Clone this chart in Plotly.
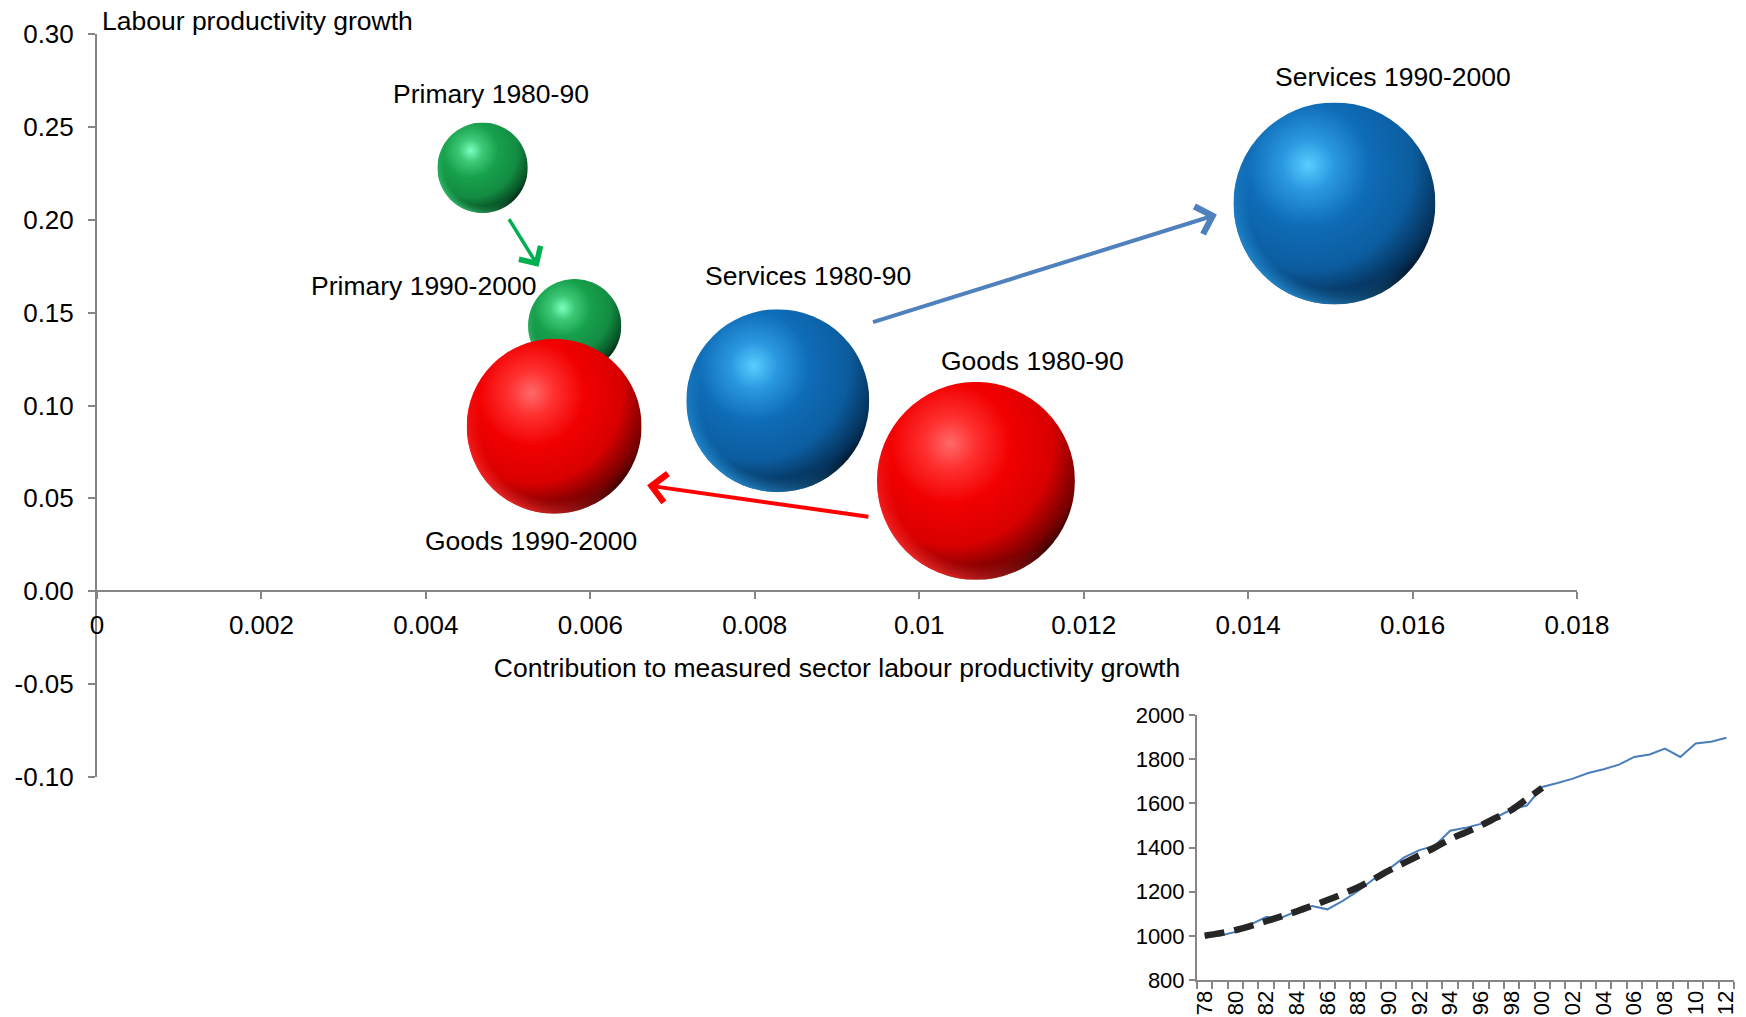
import base64
import math
import plotly.graph_objects as go

# ---- Bubble chart data: sector contribution vs labour productivity growth ----
bubble_labels = ["Primary 1980-90", "Primary 1990-2000",
                 "Services 1980-90", "Services 1990-2000",
                 "Goods 1980-90", "Goods 1990-2000"]
bubble_sector = ["Primary", "Primary", "Services", "Services", "Goods", "Goods"]
contribution = [0.00469, 0.00581, 0.00828, 0.01505, 0.01069, 0.00556]
productivity_growth = [0.228, 0.143, 0.1026, 0.2088, 0.0594, 0.0888]
employment_share = [6.0, 6.4, 24.6, 30.0, 28.8, 22.5]

# ---- Inset: measured sector labour productivity index ----
years = list(range(1978, 2013))
productivity_index = [1000, 1000, 1018, 1052, 1085, 1082, 1112, 1135, 1120, 1158,
                      1203, 1256, 1302, 1355, 1388, 1408, 1476, 1489, 1507, 1537,
                      1572, 1590, 1674, 1692, 1712, 1737, 1754, 1775, 1810, 1821,
                      1848, 1810, 1871, 1879, 1897]
trend_years = list(range(1978, 2001))
trend_index = [1000, 1012, 1026, 1045, 1066, 1088, 1111, 1136, 1162, 1190,
               1220, 1256, 1295, 1330, 1365, 1400, 1438, 1468, 1500, 1535,
               1570, 1620, 1670]

# ---- Page geometry ----
W, H = 1746, 1017
M = dict(l=97, r=10, t=34, b=37, autoexpand=False)
PW, PH = W - M["l"] - M["r"], H - M["t"] - M["b"]

X_RANGE = [0, 0.018]
Y_RANGE = [-0.10, 0.30]
main_right_px, main_bottom_px = 1577, 777
x_dom = [0, (main_right_px - M["l"]) / PW]
y_dom = [(H - M["b"] - main_bottom_px) / PH, 1]
x_axis_pos = y_dom[0] + (0 - Y_RANGE[0]) / (Y_RANGE[1] - Y_RANGE[0]) * (y_dom[1] - y_dom[0])

inset_x_dom = [(1197 - M["l"]) / PW, (1734 - M["l"]) / PW]
inset_y_dom = [0, (H - M["b"] - 715) / PH]

px_per_x = (x_dom[1] - x_dom[0]) * PW / (X_RANGE[1] - X_RANGE[0])
px_per_y = (y_dom[1] - y_dom[0]) * PH / (Y_RANGE[1] - Y_RANGE[0])

FONT = "Liberation Sans, Arial, sans-serif"

# Sphere shading per sector: highlight, soft light, body, body shade, shadow, core shadow
palette = {
    "Primary": ("#7cffbf", "#3cc977", "#17a04c", "#138c42", "#075226", "#01120a"),
    "Services": ("#58ceff", "#2a98e0", "#0f6cb7", "#0c5d9f", "#05335d", "#010a14"),
    "Goods": ("#ff6a6a", "#ff3030", "#f20000", "#d80000", "#780000", "#180000"),
}


def sphere_svg(light, soft, body, shade, dark, deep):
    svg = f"""<svg xmlns="http://www.w3.org/2000/svg" width="400" height="400" viewBox="0 0 400 400">
<defs>
<radialGradient id="g" cx="0.37" cy="0.31" fx="0.37" fy="0.31" r="0.76">
<stop offset="0" stop-color="{light}"/>
<stop offset="0.17" stop-color="{soft}"/>
<stop offset="0.40" stop-color="{body}"/>
<stop offset="0.68" stop-color="{shade}"/>
<stop offset="0.88" stop-color="{dark}"/>
<stop offset="1" stop-color="{deep}"/>
</radialGradient>
<radialGradient id="rim" cx="0.5" cy="0.5" r="0.5">
<stop offset="0.84" stop-color="{soft}" stop-opacity="0"/>
<stop offset="1" stop-color="{soft}" stop-opacity="0.85"/>
</radialGradient>
<linearGradient id="lm" x1="0.25" y1="1" x2="0.55" y2="0.6">
<stop offset="0" stop-color="#ffffff"/>
<stop offset="1" stop-color="#000000"/>
</linearGradient>
<mask id="m"><rect width="400" height="400" fill="url(#lm)"/></mask>
</defs>
<circle cx="200" cy="200" r="200" fill="url(#g)"/>
<circle cx="200" cy="200" r="200" fill="url(#rim)" mask="url(#m)"/>
</svg>"""
    return "data:image/svg+xml;base64," + base64.b64encode(svg.encode()).decode()


D_MAX = 202
max_share = max(employment_share)
diam = [D_MAX * math.sqrt(s / max_share) for s in employment_share]

fig = go.Figure()
images = []
for sector in ["Primary", "Services", "Goods"]:
    idx = [i for i, s in enumerate(bubble_sector) if s == sector]
    colours = palette[sector]
    fig.add_trace(go.Scatter(
        x=[contribution[i] for i in idx],
        y=[productivity_growth[i] for i in idx],
        mode="markers", name=sector,
        marker=dict(size=[diam[i] * 0.97 for i in idx], sizemode="diameter",
                    color=colours[2], line=dict(width=0)),
        hoverinfo="skip", showlegend=False, xaxis="x", yaxis="y",
    ))
    src = sphere_svg(*colours)
    for i in idx:
        images.append(dict(
            source=src, xref="x", yref="y",
            x=contribution[i], y=productivity_growth[i],
            sizex=diam[i] / px_per_x, sizey=diam[i] / px_per_y,
            xanchor="center", yanchor="middle", sizing="stretch", layer="above",
        ))

# Bubble labels, offset in pixels from each bubble
label_shift = {
    "Primary 1980-90": (8, 74),
    "Primary 1990-2000": (-151, 40),
    "Services 1980-90": (30, 125),
    "Services 1990-2000": (59, 126),
    "Goods 1980-90": (57, 120),
    "Goods 1990-2000": (-23, -115),
}
annotations = []
for i, lab in enumerate(bubble_labels):
    dx, dy = label_shift[lab]
    annotations.append(dict(
        x=contribution[i], y=productivity_growth[i], xref="x", yref="y",
        text=lab, showarrow=False, xshift=dx, yshift=dy,
        xanchor="center", yanchor="middle",
        font=dict(family=FONT, size=26.5, color="#000000"),
    ))

# Movement arrows between periods (tail -> head, data units)
arrows = [
    ((0.00500, 0.2011), (0.00537, 0.1747), "#00b050", 3.5),
    ((0.00942, 0.1446), (0.01362, 0.2028), "#4f81bd", 4),
    ((0.00940, 0.0400), (0.00669, 0.0570), "#ff0000", 4),
]
for (tx, ty), (hx, hy), col, w in arrows:
    annotations.append(dict(
        x=hx, y=hy, ax=tx, ay=ty, xref="x", yref="y", axref="x", ayref="y",
        text="", showarrow=True, arrowhead=4, arrowsize=1.4,
        arrowwidth=w, arrowcolor=col, standoff=0, startstandoff=0,
    ))

annotations.append(dict(
    x=0, y=1, xref="paper", yref="paper", xanchor="left", yanchor="middle",
    xshift=3, yshift=13, text="Labour productivity growth", showarrow=False,
    font=dict(family=FONT, size=26.5, color="#000000"),
))

# Inset line chart
fig.add_trace(go.Scatter(
    x=years, y=productivity_index, mode="lines",
    line=dict(color="#4a7ebb", width=2),
    hoverinfo="skip", showlegend=False, xaxis="x2", yaxis="y2",
))
fig.add_trace(go.Scatter(
    x=trend_years, y=trend_index, mode="lines",
    line=dict(color="#262626", width=6.5, dash="20px,10px", shape="spline"),
    hoverinfo="skip", showlegend=False, xaxis="x2", yaxis="y2",
))

AX = "#868686"
even_years = [y for y in years if y % 2 == 0]
y_ticks = [round(-0.10 + 0.05 * k, 2) for k in range(9)]

fig.update_layout(
    template="none",
    width=W, height=H, margin=M,
    paper_bgcolor="white", plot_bgcolor="white",
    font=dict(family=FONT, color="#000000"),
    showlegend=False, hovermode=False,
    annotations=annotations, images=images,
    xaxis=dict(
        domain=x_dom, range=X_RANGE, anchor="free", position=x_axis_pos,
        showline=True, linecolor=AX, linewidth=2, automargin=False,
        ticks="outside", ticklen=7, tickwidth=1.5, tickcolor=AX,
        tick0=0, dtick=0.002, tickformat="~g", ticklabelstandoff=4,
        showgrid=False, zeroline=False,
        tickfont=dict(family=FONT, size=26),
        title=dict(text="Contribution to measured sector labour productivity growth",
                   font=dict(family=FONT, size=26.5), standoff=18),
    ),
    yaxis=dict(
        domain=y_dom, range=Y_RANGE, anchor="x", automargin=False,
        showline=True, linecolor=AX, linewidth=2,
        ticks="outside", ticklen=7, tickwidth=1.5, tickcolor=AX,
        tickmode="array", tickvals=y_ticks,
        ticktext=[f"{v:.2f}" for v in y_ticks], ticklabelstandoff=9,
        showgrid=False, zeroline=False,
        tickfont=dict(family=FONT, size=26),
    ),
    xaxis2=dict(
        domain=inset_x_dom, anchor="y2", range=[1977.5, 2012.5], automargin=False,
        tickmode="array", tickvals=even_years,
        ticktext=[f"{y % 100:02d}" for y in even_years],
        ticks="", tickangle=-90,
        showline=True, linecolor=AX, linewidth=2,
        minor=dict(tick0=1977.5, dtick=1, ticks="outside", ticklen=7,
                   tickwidth=1.5, tickcolor=AX, showgrid=False),
        showgrid=False, zeroline=False,
        tickfont=dict(family=FONT, size=22),
    ),
    yaxis2=dict(
        domain=inset_y_dom, anchor="x2", range=[800, 2000], dtick=200, automargin=False,
        showline=True, linecolor=AX, linewidth=2,
        ticks="outside", ticklen=6, tickwidth=1.5, tickcolor=AX,
        showgrid=False, zeroline=False,
        tickfont=dict(family=FONT, size=22),
    ),
)

fig.write_html("out.html")
